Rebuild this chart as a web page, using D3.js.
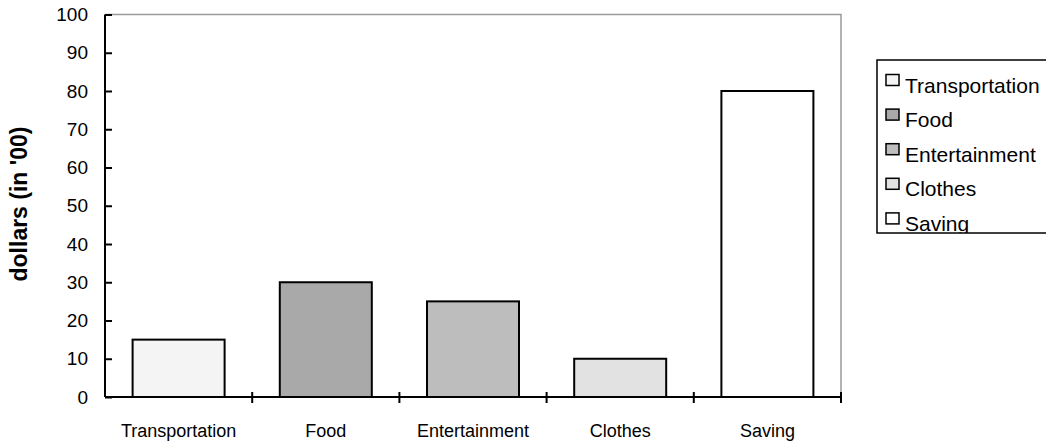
<!DOCTYPE html>
<html>
<head>
<meta charset="utf-8">
<script src="https://cdn.jsdelivr.net/npm/d3@7"></script>
<style>
  html, body { margin: 0; padding: 0; background: #fff; }
  svg { display: block; font-family: "Liberation Sans", Arial, sans-serif; }
</style>
</head>
<body>
<svg id="chart" width="1046" height="444"></svg>
<script>
// Spending categories and amounts (in hundreds of dollars)
const categories = ["Transportation", "Food", "Entertainment", "Clothes", "Saving"];
const amounts = [15, 30, 25, 10, 80];
const fills = ["#f4f4f4", "#a9a9a9", "#bdbdbd", "#e2e2e2", "#ffffff"];
const yTicks = [0, 10, 20, 30, 40, 50, 60, 70, 80, 90, 100];
const yTitle = "dollars (in '00)";

const svg = d3.select("#chart");
const plotL = 105, plotR = 841, plotT = 14.5, plotB = 397;

const x = d3.scaleBand()
  .domain(categories)
  .range([plotL, plotR])
  .paddingInner(0.375)
  .paddingOuter(0.1875);

const y = d3.scaleLinear().domain([0, 100]).range([plotB, plotT]);

// Plot frame: grey top and right edges
svg.append("path")
  .attr("d", `M${plotL},${plotT}H${plotR}V${plotB}`)
  .attr("fill", "none")
  .attr("stroke", "#9a9a9a")
  .attr("stroke-width", 1.5);

// Bars
svg.append("g").selectAll("rect")
  .data(categories)
  .join("rect")
  .attr("x", d => x(d))
  .attr("y", (d, i) => y(amounts[i]))
  .attr("width", x.bandwidth())
  .attr("height", (d, i) => y(0) - y(amounts[i]))
  .attr("fill", (d, i) => fills[i])
  .attr("stroke", "#000")
  .attr("stroke-width", 2);

// Y axis with ticks crossing the axis line
const yAxis = svg.append("g").attr("transform", `translate(${plotL},0)`)
  .call(d3.axisLeft(y).tickValues(yTicks).tickSize(8).tickPadding(9));
yAxis.select(".domain").attr("stroke", "#000").attr("stroke-width", 2)
  .attr("d", `M0,${plotT}V${plotB}`);
yAxis.selectAll(".tick line").attr("x2", 7).attr("stroke", "#000").attr("stroke-width", 2);
yAxis.selectAll(".tick text")
  .attr("fill", "#000")
  .style("font-size", "19px")
  .style("font-family", "'Liberation Sans', Arial, sans-serif");

// X axis: ticks sit on category boundaries
const step = x.step();
const boundaries = categories.map(c => x(c) + x.bandwidth() + step * x.paddingInner() / 2);
const xAxisG = svg.append("g").attr("transform", `translate(0,${plotB})`);
xAxisG.append("line")
  .attr("x1", plotL).attr("x2", plotR)
  .attr("stroke", "#000").attr("stroke-width", 2);
xAxisG.selectAll("line.tick")
  .data(boundaries)
  .join("line")
  .attr("class", "tick")
  .attr("x1", d => d).attr("x2", d => d)
  .attr("y1", -5).attr("y2", 6)
  .attr("stroke", "#000").attr("stroke-width", 2);
xAxisG.selectAll("text")
  .data(categories)
  .join("text")
  .attr("x", d => x(d) + x.bandwidth() / 2)
  .attr("y", 40)
  .attr("text-anchor", "middle")
  .style("font-size", "18px")
  .text(d => d);

// Y axis title
svg.append("text")
  .attr("transform", `translate(27,204) rotate(-90)`)
  .attr("text-anchor", "middle")
  .style("font-size", "23px")
  .style("font-weight", "bold")
  .text(yTitle);

// Legend
const legX = 877, legY = 60, legH = 173;
svg.append("defs").append("clipPath").attr("id", "legclip")
  .append("rect").attr("x", legX).attr("y", legY).attr("width", 200).attr("height", legH);
const leg = svg.append("g");
leg.append("rect")
  .attr("x", legX).attr("y", legY).attr("width", 200).attr("height", legH)
  .attr("fill", "#fff").attr("stroke", "#000").attr("stroke-width", 1.5);
const items = leg.append("g").attr("clip-path", "url(#legclip)")
  .selectAll("g").data(categories).join("g")
  .attr("transform", (d, i) => `translate(0,${92.5 + i * 34.6})`);
items.append("rect")
  .attr("x", 886).attr("y", -18).attr("width", 13).attr("height", 11)
  .attr("fill", (d, i) => fills[i])
  .attr("stroke", "#000").attr("stroke-width", 1.5);
items.append("text")
  .attr("x", 905).attr("y", 0)
  .style("font-size", "21px")
  .text(d => d);
</script>
</body>
</html>
